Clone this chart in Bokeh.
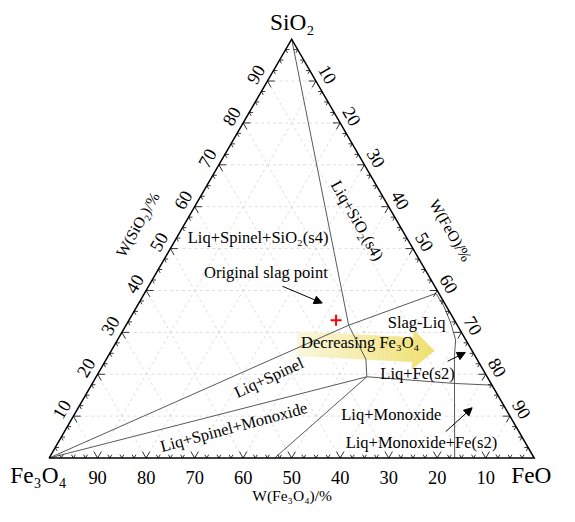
import numpy as np
from bokeh.plotting import figure
from bokeh.models import Range1d, Arrow, NormalHead
from bokeh.core.properties import value
from bokeh.embed import file_html
from bokeh.resources import INLINE

# ---------------- data (wt%: FeO, SiO2 ; Fe3O4 = 100 - FeO - SiO2) ----------------
vertex_names = ["Fe₃O₄", "FeO", "SiO₂"]
tick_values = [10, 20, 30, 40, 50, 60, 70, 80, 90]

# phase boundaries
bnd1_feo = [0.0, 45.9];  bnd1_sio2 = [100.0, 31.7]          # SiO2 apex -> junction
bnd2_feo = [0.0, 45.9];  bnd2_sio2 = [0.0, 31.7]            # Fe3O4 -> junction
bnd3_feo = [45.9, 60.1, 63.2, 66.7, 69.7, 71.4, 83.6]       # slag-liq envelope + Fe(s2) line
bnd3_sio2 = [31.7, 39.3, 36.3, 32.2, 28.2, 24.3, 0.0]
bnd4_feo = [45.9, 53.5, 55.8]; bnd4_sio2 = [31.7, 23.6, 19.4]
bnd5_feo = [0.0, 55.8];  bnd5_sio2 = [0.0, 19.4]            # Fe3O4 -> lower junction
bnd6_feo = [55.8, 74.7, 82.6]; bnd6_sio2 = [19.4, 17.8, 17.4]
bnd7_feo = [55.8, 46.5]; bnd7_sio2 = [19.4, 0.0]

# original slag point
slag_feo = [42.7]; slag_sio2 = [32.9]

# pointer arrows (tail -> head)
arr_tail_feo = [27.6, 70.6, 78.6]; arr_tail_sio2 = [41.0, 23.1, 6.3]
arr_head_feo = [37.8, 73.2, 81.2]; arr_head_sio2 = [37.0, 25.2, 12.0]

# "Decreasing Fe3O4" arrow (tail -> tip)
big_tail_feo, big_tail_sio2 = 37.5, 27.3
big_tip_feo, big_tip_sio2 = 66.6, 25.6

# ---------------- geometry helpers ----------------
S3 = np.sqrt(3) / 2
SC = 4.99
FONT = "Liberation Serif"
K = 0.97  # font scale


def cart(F, S):
    F = np.asarray(F, float); S = np.asarray(S, float)
    return F + S / 2, S * S3


def scr(X, Y):
    return (X - 50) / SC, (472 - Y) / SC


def fs(size):
    return f"{size * K:.1f}px"


p = figure(width=559, height=506,
           x_range=Range1d(-50 / SC, 525 / SC), y_range=Range1d(-50 / SC, 472 / SC),
           output_backend="svg", toolbar_location=None,
           x_axis_location=None, y_axis_location=None,
           min_border=0, outline_line_color=None,
           background_fill_color="white", border_fill_color="white")
p.grid.visible = False

# grid
gx, gy = [], []
for v in tick_values:
    for F, S in (([0, 100 - v], [v, v]), ([v, v], [0, 100 - v]), ([100 - v, 0], [0, 100 - v])):
        a, b = cart(F, S)
        gx.append(list(a)); gy.append(list(b))
p.multi_line(gx, gy, line_color="#d6d6d6", line_width=0.8, line_dash="3 3")

# gradient yellow arrow
tx, ty = cart(big_tail_feo, big_tail_sio2)
hx, hy = cart(big_tip_feo, big_tip_sio2)
L = float(np.hypot(hx - tx, hy - ty))
ux, uy = (hx - tx) / L, (hy - ty) / L
nx, ny = -uy, ux
head_len, body_w, head_w = 4.4, 2.5, 4.0
Lb = L - head_len


def wid(u):
    return body_w if u < Lb else head_w * (L - u) / head_len


us = list(np.linspace(0, Lb, 31)) + list(np.linspace(Lb, L, 9)[1:])
c0 = np.array([250, 247, 222]); c1 = np.array([240, 224, 112])
xs, ys, cols = [], [], []
for i in range(len(us) - 1):
    u0, u1 = us[i], us[i + 1]
    w0 = wid(u0 + 1e-9); w1 = wid(u1 - 1e-9)
    pts = [(u0, -w0), (u1, -w1), (u1, w1), (u0, w0)]
    xs.append([float(tx + u * ux + v * nx) for u, v in pts])
    ys.append([float(ty + u * uy + v * ny) for u, v in pts])
    t = (u0 + u1) / 2 / L
    c = (c0 + (c1 - c0) * t).astype(int)
    cols.append("#%02x%02x%02x" % tuple(c))
p.patches(xs, ys, fill_color=cols, line_color=cols, line_width=0.6)

# boundaries
bx, by = [], []
for F, S in ((bnd1_feo, bnd1_sio2), (bnd2_feo, bnd2_sio2), (bnd3_feo, bnd3_sio2),
             (bnd4_feo, bnd4_sio2), (bnd5_feo, bnd5_sio2), (bnd6_feo, bnd6_sio2),
             (bnd7_feo, bnd7_sio2)):
    a, b = cart(F, S)
    bx.append(list(a)); by.append(list(b))
p.multi_line(bx, by, line_color="#5a5a5a", line_width=1.0)

# triangle edges
ex, ey = cart([0, 100, 0, 0], [0, 0, 100, 0])
p.line(list(ex), list(ey), line_color="black", line_width=1.5, line_join="miter")

# ticks
tkx, tky = [], []
for v in np.arange(2.5, 100, 2.5):
    d = 1.5 if v % 10 == 0 else 0.8
    segs = [
        ((0, v), (d, v)), ((0, v), (d, v - d)),                       # left edge
        ((v, 0), (v, d)), ((v, 0), (v - d, d)),                       # bottom edge
        ((v, 100 - v), (v - d, 100 - v)), ((v, 100 - v), (v, 100 - v - d)),  # right edge
    ]
    for (F0, S0), (F1, S1) in segs:
        a, b = cart([F0, F1], [S0, S1])
        tkx.append(list(a)); tky.append(list(b))
p.multi_line(tkx, tky, line_color="black", line_width=0.8)

# original slag point
sx, sy = cart(slag_feo, slag_sio2)
p.scatter(list(sx), list(sy), marker="cross", size=11, line_color="red", line_width=2)

# pointer arrows
for F0, S0, F1, S1 in zip(arr_tail_feo, arr_tail_sio2, arr_head_feo, arr_head_sio2):
    x0, y0 = cart(F0, S0); x1, y1 = cart(F1, S1)
    p.add_layout(Arrow(end=NormalHead(size=8, fill_color="black", line_color="black", line_width=1),
                       x_start=float(x0), y_start=float(y0), x_end=float(x1), y_end=float(y1),
                       line_color="black", line_width=1))


def label(X, Y, txt, size, angle=0.0):
    x, y = scr(X, Y)
    p.text([x], [y], text=[txt], angle=angle, text_align="center", text_baseline="middle",
           text_font=value(FONT), text_font_size=fs(size), text_color="black")


# tick labels
for v in tick_values:
    # bottom: Fe3O4 %
    bx0, by0 = cart(100 - v, 0)
    p.text([float(bx0)], [float(by0 - 20 / SC)], text=[str(v)], text_align="center", text_baseline="middle",
           text_font=value(FONT), text_font_size=fs(19))
    # left: SiO2 %
    lx, ly = cart(0, v)
    off = 14 / SC
    p.text([float(lx - 0.866 * off)], [float(ly + 0.5 * off)], text=[str(v)], angle=np.pi / 3,
           text_align="center", text_baseline="middle", text_font=value(FONT), text_font_size=fs(19))
    # right: FeO %
    rx, ry = cart(v, 100 - v)
    p.text([float(rx + 0.866 * off)], [float(ry + 0.5 * off)], text=[str(v)], angle=-np.pi / 3,
           text_align="center", text_baseline="middle", text_font=value(FONT), text_font_size=fs(19))

# vertex labels
label(39, 489, vertex_names[0], 24)
label(546, 489, vertex_names[1], 24)
label(300, 22, vertex_names[2], 24)

# axis titles
label(300, 511, "W(Fe₃O₄)/%", 16)
label(141, 231, "W(SiO₂)/%", 16, np.pi / 3)
label(463, 237, "W(FeO)/%", 16, -np.pi / 3)

# region labels
label(265, 245, "Liq+Spinel+SiO₂(s4)", 17)
label(273, 281, "Original slag point", 17)
label(367, 227, "Liq+SiO₂(s4)", 17, -np.pi / 3)
label(428, 332, "Slag-Liq", 17)
label(429, 385, "Liq+Fe(s2)", 17)
label(402, 427, "Liq+Monoxide", 17)
label(433, 456, "Liq+Monoxide+Fe(s2)", 17)
label(276, 389, "Liq+Spinel", 17, np.radians(25))
label(240, 440, "Liq+Spinel+Monoxide", 17, np.radians(15))
label(370, 353, "Decreasing Fe₃O₄", 17)

open("out.html", "w").write(file_html(p, INLINE))
